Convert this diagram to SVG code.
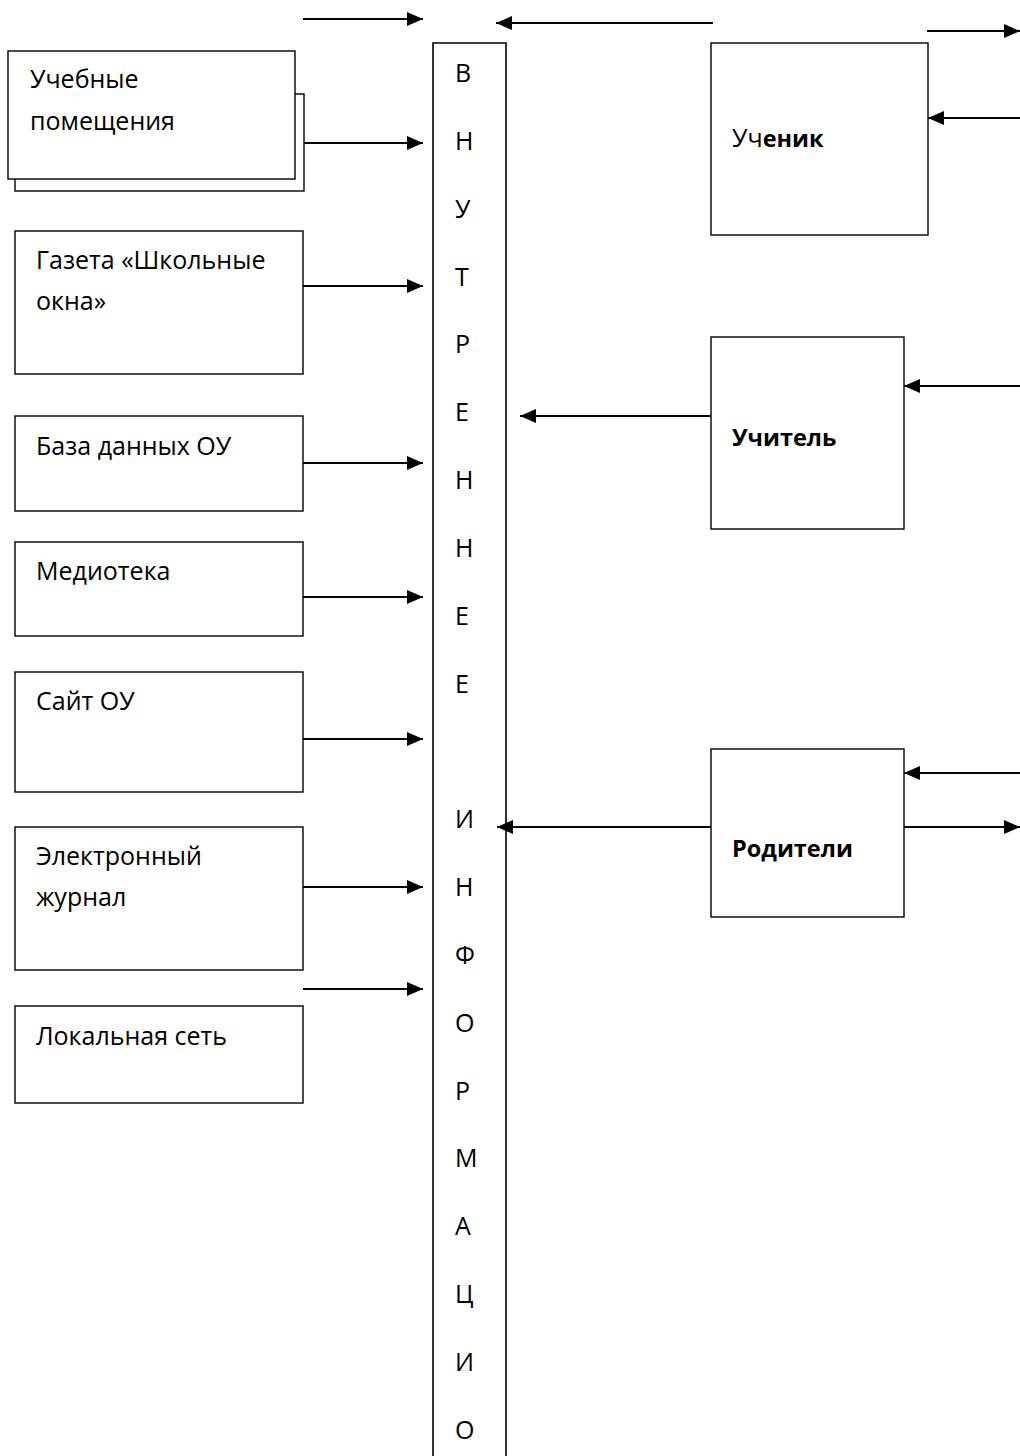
<svg xmlns="http://www.w3.org/2000/svg" width="1020" height="1456" viewBox="0 0 1020 1456">
<defs>
<marker id="ah" markerUnits="userSpaceOnUse" markerWidth="16" markerHeight="14" refX="16" refY="7" orient="auto">
<path d="M0,0 L16,7 L0,14 z" fill="#000"/>
</marker>
<style>
.box{fill:#fff;stroke:#000;stroke-width:1.4}
.t{font-family:"Open Sans","Noto Sans","DejaVu Sans",sans-serif;font-size:25px;fill:#000}
.b{font-weight:bold;font-size:23.5px}
.c line{stroke:#000;stroke-width:2.2;marker-end:url(#ah)}
</style>
</defs>
<rect width="1020" height="1456" fill="#fff"/>
<g id="n-uchebnye">
<rect class="box" x="15" y="94" width="289" height="97"/>
<rect class="box" x="8" y="51" width="287" height="128"/>
<text class="t" x="30" y="88">Учебные</text>
<text class="t" x="30" y="130">помещения</text>
</g>
<g id="n-gazeta">
<rect class="box" x="15" y="231" width="288" height="143"/>
<text class="t" x="36" y="269">Газета «Школьные</text>
<text class="t" x="36" y="310">окна»</text>
</g>
<g id="n-baza">
<rect class="box" x="15" y="416" width="288" height="95"/>
<text class="t" x="36" y="455">База данных ОУ</text>
</g>
<g id="n-media">
<rect class="box" x="15" y="542" width="288" height="94"/>
<text class="t" x="36" y="580">Медиотека</text>
</g>
<g id="n-sait">
<rect class="box" x="15" y="672" width="288" height="120"/>
<text class="t" x="36" y="710">Сайт ОУ</text>
</g>
<g id="n-journal">
<rect class="box" x="15" y="827" width="288" height="143"/>
<text class="t" x="36" y="865">Электронный</text>
<text class="t" x="36" y="906">журнал</text>
</g>
<g id="n-local">
<rect class="box" x="15" y="1006" width="288" height="97"/>
<text class="t" x="36" y="1045">Локальная сеть</text>
</g>
<g id="n-bar">
<path d="M433,1460 V43 H506 V1460" fill="#fff" stroke="#000" stroke-width="1.6"/>
<g class="t">
<text x="455" y="82">В</text>
<text x="455" y="150">Н</text>
<text x="455" y="218">У</text>
<text x="455" y="286">Т</text>
<text x="455" y="353">Р</text>
<text x="455" y="421">Е</text>
<text x="455" y="489">Н</text>
<text x="455" y="557">Н</text>
<text x="455" y="625">Е</text>
<text x="455" y="693">Е</text>
<text x="455" y="828">И</text>
<text x="455" y="896">Н</text>
<text x="455" y="964">Ф</text>
<text x="455" y="1032">О</text>
<text x="455" y="1100">Р</text>
<text x="455" y="1167">М</text>
<text x="455" y="1235">А</text>
<text x="455" y="1303">Ц</text>
<text x="455" y="1371">И</text>
<text x="455" y="1439">О</text>
</g>
</g>
<g id="n-uchenik">
<rect class="box" x="711" y="43" width="217" height="192"/>
<text class="t" x="732" y="147">Уч<tspan class="b">еник</tspan></text>
</g>
<g id="n-uchitel">
<rect class="box" x="711" y="337" width="193" height="192"/>
<text class="t b" x="732" y="446">Учитель</text>
</g>
<g id="n-roditeli">
<rect class="box" x="711" y="749" width="193" height="168"/>
<text class="t b" x="732" y="857">Родители</text>
</g>
<g id="connectors" class="c">
<line x1="303" y1="19" x2="423" y2="19"/>
<line x1="304" y1="143" x2="423" y2="143"/>
<line x1="303" y1="286" x2="423" y2="286"/>
<line x1="303" y1="463" x2="423" y2="463"/>
<line x1="303" y1="597" x2="423" y2="597"/>
<line x1="303" y1="739" x2="423" y2="739"/>
<line x1="303" y1="887" x2="423" y2="887"/>
<line x1="303" y1="989" x2="423" y2="989"/>
<line x1="713" y1="23" x2="496" y2="23"/>
<line x1="927" y1="31" x2="1020" y2="31"/>
<line x1="1020" y1="118" x2="928" y2="118"/>
<line x1="1020" y1="386" x2="904" y2="386"/>
<line x1="711" y1="416" x2="520" y2="416"/>
<line x1="1020" y1="773" x2="904" y2="773"/>
<line x1="904" y1="827" x2="1020" y2="827"/>
<line x1="711" y1="827" x2="497" y2="827"/>
</g>
</svg>
